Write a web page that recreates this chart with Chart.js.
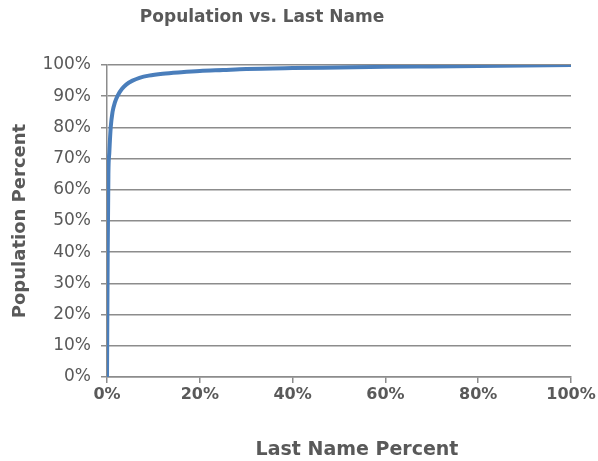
<!DOCTYPE html>
<html>
<head>
<meta charset="utf-8">
<script src="https://cdn.jsdelivr.net/npm/chart.js@4/dist/chart.umd.min.js"></script>
<style>
  html, body { margin: 0; padding: 0; background: #ffffff; }
  #wrap { width: 598px; height: 461px; }
</style>
</head>
<body>
<div id="wrap"><canvas id="chart" width="598" height="461"></canvas></div>
<script>
// Share of last names (cumulative, %) vs. share of population they cover (cumulative, %)
const lastNamePercent = [0, 0.15, 0.3, 0.5, 0.8, 1.2, 1.7, 2.3, 3.2, 4.2, 5.5, 7, 9, 12, 16, 20, 25, 30, 40, 50, 60, 70, 80, 90, 100];
const populationPercent = [0, 40, 65, 72, 80, 85, 88, 90.2, 92.3, 93.8, 95, 95.9, 96.6, 97.2, 97.7, 98.1, 98.4, 98.7, 99.0, 99.2, 99.4, 99.55, 99.7, 99.85, 100];
const xTickValues = [0, 20, 40, 60, 80, 100];
const yTickValues = [0, 10, 20, 30, 40, 50, 60, 70, 80, 90, 100];

const chartTitle = 'Population vs. Last Name';
const xAxisTitle = 'Last Name Percent';

const TEXT = '#595959';
const GRID = '#8c8c8c';
const LINE = '#4a7ebb';
const FONT = '"DejaVu Sans", sans-serif';

const points = lastNamePercent.map((x, i) => ({ x: x, y: populationPercent[i] }));

// Chart title and horizontal axis title, placed like the spreadsheet layout
const titleText = {
  id: 'titleText',
  afterDraw(chart) {
    const ctx = chart.ctx;
    ctx.save();
    ctx.fillStyle = TEXT;
    ctx.textAlign = 'center';
    ctx.textBaseline = 'middle';
    ctx.font = 'bold 17px ' + FONT;
    ctx.fillText(chartTitle, 262, 18);
    ctx.font = 'bold 19px ' + FONT;
    ctx.fillText(xAxisTitle, 357, 450);
    ctx.restore();
  }
};

new Chart(document.getElementById('chart'), {
  type: 'line',
  data: {
    datasets: [{
      label: 'Population',
      data: points,
      borderColor: LINE,
      borderWidth: 4,
      pointRadius: 0,
      fill: false,
      cubicInterpolationMode: 'monotone'
    }]
  },
  options: {
    responsive: false,
    animation: false,
    layout: { padding: { left: 0, right: 27, top: 65, bottom: 0 } },
    plugins: {
      legend: { display: false },
      tooltip: { enabled: false },
      title: { display: false }
    },
    scales: {
      x: {
        type: 'linear',
        min: 0, max: 100,
        afterBuildTicks: (s) => { s.ticks = xTickValues.map(v => ({ value: v })); },
        afterFit: (s) => { s.height = 84; },
        grid: { drawOnChartArea: false, drawTicks: true, tickLength: 6, color: GRID, lineWidth: 1.5 },
        border: { display: true, color: GRID, width: 1.5 },
        ticks: {
          color: TEXT, padding: 2,
          font: { family: FONT, size: 16, weight: 'bold' },
          callback: (v) => v + '%'
        }
      },
      y: {
        type: 'linear',
        min: 0, max: 100,
        afterBuildTicks: (s) => { s.ticks = yTickValues.map(v => ({ value: v })); },
        afterFit: (s) => { s.width = 107; },
        grid: { drawOnChartArea: true, drawTicks: true, tickLength: 6, color: GRID, lineWidth: 1.5 },
        border: { display: true, color: GRID, width: 1.5 },
        ticks: {
          color: TEXT, padding: 10,
          font: { family: FONT, size: 17 },
          callback: (v) => v + '%'
        },
        title: {
          display: true, text: 'Population Percent', color: TEXT,
          font: { family: FONT, size: 18, weight: 'bold' },
          padding: { top: 10, bottom: 0 }
        }
      }
    }
  },
  plugins: [titleText]
});
</script>
</body>
</html>
